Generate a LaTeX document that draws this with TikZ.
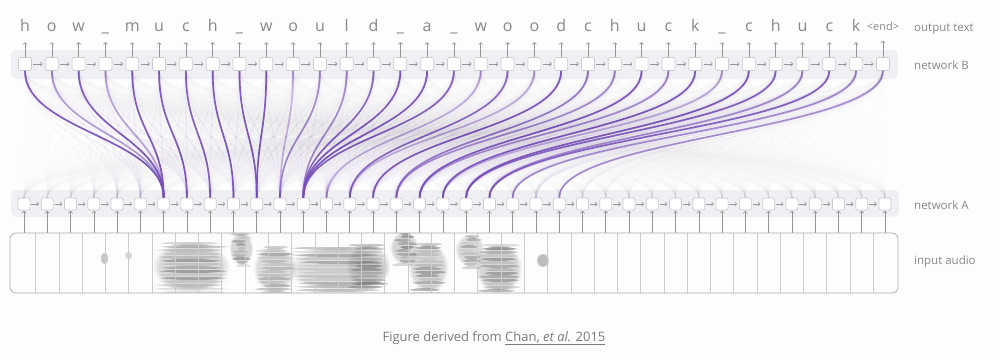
\documentclass[tikz,border=0pt]{standalone}
\usepackage{fontspec}
\setmainfont{Open Sans}
\usetikzlibrary{arrows.meta, fadings}

\definecolor{attn}{RGB}{118,78,186}
\definecolor{bandgray}{RGB}{240,240,244}
\definecolor{boxline}{RGB}{204,204,208}
\definecolor{arrowgray}{RGB}{150,150,150}
\definecolor{labelgray}{RGB}{136,136,140}
\definecolor{specgray}{RGB}{70,70,70}
\definecolor{pagebg}{RGB}{253,253,253}

% one patch of the spectrogram: a soft base plus horizontal streaks
\newcommand\specpatch[5]{%
    \fill[smudge, fill opacity=#5*0.35] (#1,#2) rectangle (#3,#4);
    \pgfmathsetmacro\ysec{#2+3.5}
    \foreach \yy in {#2,\ysec,...,#4} {
        \pgfmathsetmacro\xl{#1+rnd*10}
        \pgfmathsetmacro\xr{#3-rnd*10}
        \pgfmathsetmacro\so{#5*(0.15+0.6*rnd)}
        \fill[smudge, fill opacity=\so] (\xl,\yy) rectangle (\xr,\yy+3.5);
    }
}

\begin{document}
\begin{tikzpicture}[x=1pt, y=-1pt,
    cell/.style={draw=boxline, fill=white, rounded corners=2pt, minimum size=13pt, inner sep=0pt, line width=0.7pt},
    acell/.style={cell, minimum size=12pt},
    band/.style={fill=bandgray, rounded corners=5pt},
    rarrow/.style={-{To[length=2.5pt,width=4.5pt]}, draw=arrowgray, line width=0.6pt, shorten <=1.5pt, shorten >=2.5pt},
    uarrow/.style={-{To[length=2.5pt,width=4.5pt]}, draw=arrowgray, line width=0.6pt},
    attnline/.style={draw=attn, line width=1.7pt},
    letter/.style={anchor=base, inner sep=0pt, text height=11pt, text depth=0pt, text=labelgray, font=\fontsize{16}{19}\selectfont},
    sidelabel/.style={anchor=base west, inner sep=0pt, text=labelgray, font=\fontsize{11.5}{14}\selectfont},
    smudge/.style={fill=specgray, path fading=circle with fuzzy edge 20 percent}
]
    \pgfmathsetseed{11}
    \fill[pagebg] (0,0) rectangle (998,359);
    \useasboundingbox (0,0) rectangle (998,359);

    % bands behind the two networks
    \fill[band] (11,50) rectangle (898,79);
    \fill[band] (11,190) rectangle (899,217);

    % network B (decoder) and output letters
    \foreach \ch [count=\n from 0] in {h,o,w,\_,m,u,c,h,\_,w,o,u,l,d,\_,a,\_,w,o,o,d,c,h,u,c,k,\_,c,h,u,c,k}
        \node[letter] (t\n) at (25+26.81*\n,31.5) {\ch};
    \node[letter, font=\fontsize{11}{13}\selectfont] (t32) at (25+26.81*32,30) {<end>};
    \foreach \n in {0,...,32} {
        \node[cell] (b\n) at (25+26.81*\n,64) {};
        \draw[uarrow, shorten >=10.5pt] (b\n.north) -- (t\n.south);
    }
    \foreach \n [evaluate=\n as \m using int(\n+1)] in {0,...,31}
        \draw[rarrow] (b\n.east) -- (b\m.west);

    % network A (encoder)
    \foreach \n in {0,...,37} {
        \node[acell] (a\n) at (24+23.27*\n,204) {};
        \coordinate (s\n) at (24+23.27*\n,233);
        \draw[uarrow, shorten >=0.5pt] (s\n) -- (a\n.south);
    }
    \foreach \n [evaluate=\n as \m using int(\n+1)] in {0,...,36}
        \draw[rarrow, shorten <=1pt, shorten >=2pt] (a\n.east) -- (a\m.west);

    % attention: faint spread around each alignment, then the alignment itself
    \foreach \i/\k/\s in {0/6/0.9, 1/6/0.5, 2/6/0.9, 3/6/0.45, 4/6/0.9, 5/7/0.9, 6/8/0.85, 7/9/0.9,
                          8/10/0.9, 9/10/0.9, 10/11/0.35, 11/11/0.6, 12/12/0.6, 13/12/0.8, 14/12/0.9,
                          15/12/0.9, 16/12/0.85, 17/13/0.4, 18/14/0.8, 19/14/0.4, 20/15/0.9, 21/16/0.7,
                          22/16/0.6, 23/17/0.9, 24/17/0.6, 25/18/0.9, 26/18/0.4, 27/19/0.9, 28/19/0.85,
                          29/20/0.6, 30/20/0.85, 31/21/0.6, 32/23/0.6} {
        \foreach \j in {0,...,37} {
            \pgfmathsetmacro{\op}{0.06*exp(-((\j-\k)^2)/6)+0.005}
            \draw[attnline, draw opacity=\op] (b\i.south) .. controls +(0,60) and +(0,-60) .. (a\j.north);
        }
        \draw[attnline, draw opacity=\s] (b\i.south) .. controls +(0,60) and +(0,-60) .. (a\k.north);
    }

    % input audio
    \begin{scope}
        \clip[rounded corners=6pt] (10,233) rectangle (898,293);
        \specpatch{152}{241}{230}{292}{0.55}
        \specpatch{229}{232}{253}{265}{0.6}
        \specpatch{253}{245}{296}{292}{0.5}
        \specpatch{288}{246}{390}{292}{0.45}
        \specpatch{346}{243}{390}{288}{0.45}
        \specpatch{390}{231}{418}{264}{0.6}
        \specpatch{408}{242}{448}{292}{0.55}
        \specpatch{455}{234}{484}{266}{0.5}
        \specpatch{475}{243}{522}{293}{0.6}
        \fill[smudge, fill opacity=0.35] (536,253) rectangle (549,267);
        \fill[smudge, fill opacity=0.3] (100,252) rectangle (108,264);
        \fill[smudge, fill opacity=0.2] (124,251) rectangle (132,259);
        \foreach \n in {0,...,36}
            \draw[boxline, line width=0.6pt] (35.6+23.27*\n,233) -- (35.6+23.27*\n,293);
    \end{scope}
    \draw[draw=arrowgray!80, line width=0.7pt, rounded corners=6pt] (10,233) rectangle (898,293);

    % row labels
    \node[sidelabel] (lbltext) at (914,31) {output text};
    \node[sidelabel] (lblB) at (914,69) {network B};
    \node[sidelabel] (lblA) at (914,209) {network A};
    \node[sidelabel] (lblaudio) at (914,264) {input audio};

    \node[anchor=base, inner sep=0pt, text=labelgray!90!black, font=\fontsize{13}{16}\selectfont] (caption) at (494,341)
        {Figure derived from \underline{Chan, \textit{et al.} 2015}};
\end{tikzpicture}
\end{document}
